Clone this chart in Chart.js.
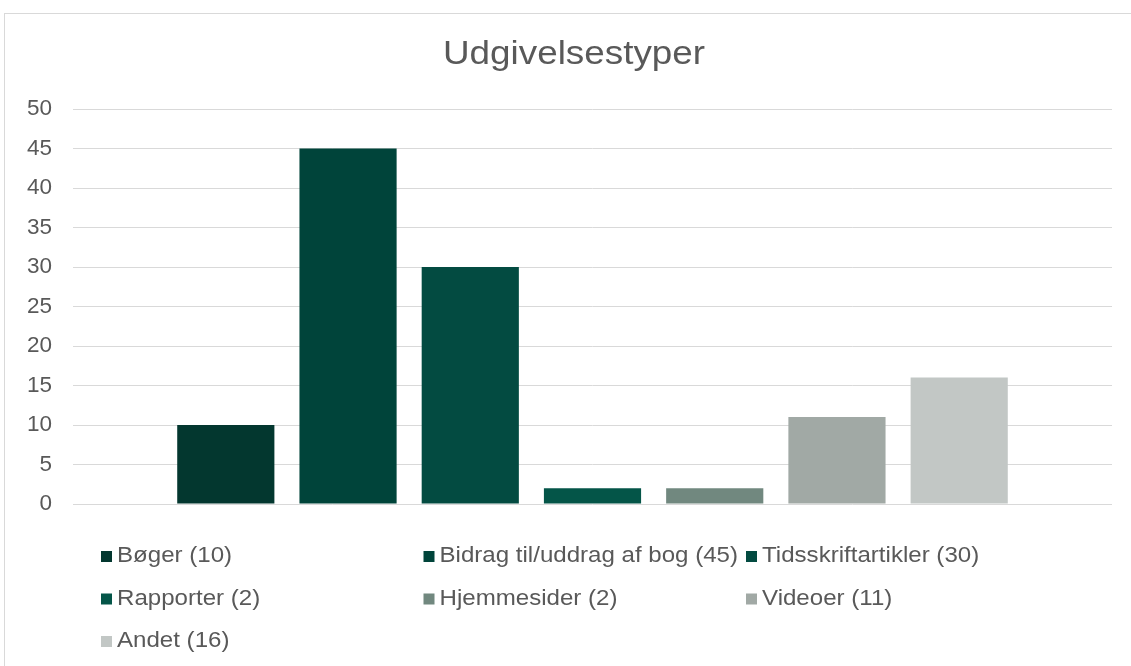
<!DOCTYPE html>
<html>
<head>
<meta charset="utf-8">
<script src="https://cdn.jsdelivr.net/npm/chart.js@4/dist/chart.umd.min.js"></script>
<style>
html,body{margin:0;padding:0;background:#fff;}
#wrap{width:1131px;height:666px;position:relative;}
</style>
</head>
<body>
<div id="wrap"><canvas id="c"></canvas></div>
<script>
const chartTitle = 'Udgivelsestyper';
const seriesNames = ['Bøger (10)', 'Bidrag til/uddrag af bog (45)', 'Tidsskriftartikler (30)', 'Rapporter (2)', 'Hjemmesider (2)', 'Videoer (11)', 'Andet (16)'];
const seriesValues = [10, 45, 30, 2, 2, 11, 16];
const seriesColors = ['#03372F', '#00443A', '#034B41', '#045548', '#71887F', '#A1A9A5', '#C2C7C5'];
const yTicks = [0, 5, 10, 15, 20, 25, 30, 35, 40, 45, 50];

const FONT = '"Liberation Sans", Arial, sans-serif';
const TEXT = '#595959';

function stretchedText(ctx, text, x, y, sx, align) {
  ctx.save();
  ctx.translate(x, y);
  ctx.scale(sx, 1);
  ctx.textAlign = align;
  ctx.fillText(text, 0, 0);
  ctx.restore();
}

const decor = {
  id: 'decor',
  beforeDraw(chart) {
    const ctx = chart.ctx;
    ctx.save();
    ctx.fillStyle = '#fff';
    ctx.fillRect(0, 0, chart.width, chart.height);
    ctx.strokeStyle = '#d9d9d9';
    ctx.lineWidth = 1;
    ctx.strokeRect(4.5, 13.5, 2000, 2000);
    ctx.restore();
  },
  afterDraw(chart) {
    const ctx = chart.ctx;
    ctx.save();
    ctx.fillStyle = TEXT;
    ctx.font = '33.5px ' + FONT;
    ctx.textBaseline = 'alphabetic';
    stretchedText(ctx, chartTitle, 574, 64, 1.1, 'center');
    ctx.font = '21.5px ' + FONT;
    ctx.textBaseline = 'middle';
    chart.data.datasets.forEach((ds, i) => {
      const col = i % 3, row = Math.floor(i / 3);
      const x = 101 + col * 322.5;
      const y = 556.5 + row * 42.5;
      ctx.fillStyle = ds.backgroundColor;
      ctx.fillRect(x, y - 5.5, 11, 11);
      ctx.fillStyle = TEXT;
      stretchedText(ctx, ds.label, x + 16, y, 1.12, 'left');
    });
    ctx.restore();
  }
};

new Chart(document.getElementById('c'), {
  type: 'bar',
  data: {
    labels: [''],
    datasets: seriesNames.map((n, i) => ({
      label: n,
      data: [seriesValues[i]],
      backgroundColor: seriesColors[i],
      borderWidth: 0,
      categoryPercentage: 0.8235,
      barPercentage: 0.795
    }))
  },
  options: {
    responsive: true,
    maintainAspectRatio: false,
    animation: false,
    layout: { padding: { top: 109, bottom: 162, left: 0, right: 19 } },
    plugins: { legend: { display: false }, title: { display: false }, tooltip: { enabled: false } },
    scales: {
      x: { display: false },
      y: {
        min: 0, max: 50,
        afterBuildTicks(scale) { scale.ticks = yTicks.map(v => ({ value: v })); },
        afterFit(scale) { scale.width = 73; },
        border: { display: false },
        grid: { color: '#d9d9d9', lineWidth: 1, drawTicks: false },
        ticks: { color: TEXT, font: { family: FONT, size: 22.5 }, padding: 21 }
      }
    }
  },
  plugins: [decor]
});
</script>
</body>
</html>
